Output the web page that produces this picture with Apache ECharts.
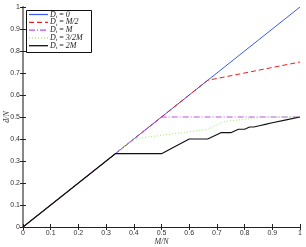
<!DOCTYPE html>
<html><head><meta charset="utf-8">
<script src="https://cdn.jsdelivr.net/npm/echarts@6/dist/echarts.min.js"></script>
<style>html,body{margin:0;padding:0;background:#fff}#c{width:306px;height:247px}</style>
</head><body><div id="c"></div>
<script>
var seriesNames = ['D0', 'DM2', 'DM', 'D3M2', 'D2M'];
var legendLabels = ['0', 'M/2', 'M', '3/2M', '2M'];
var blueData = [[0, 0], [1, 1]];
var redData = [[0, 0], [0.6667, 0.6667], [1, 0.75]];
var purpleData = [[0, 0], [0.5, 0.5], [1, 0.5]];
var greenData = [[0, 0], [0.4, 0.4], [0.5, 0.417], [0.6, 0.433], [0.667, 0.444], [0.7, 0.465], [0.73, 0.48], [0.8, 0.49], [0.875, 0.5], [1, 0.5]];
var blackData = [[0, 0], [0.3333, 0.3333], [0.5, 0.3333], [0.6, 0.4], [0.6667, 0.4], [0.7143, 0.4286], [0.75, 0.4286], [0.7778, 0.4444], [0.8, 0.4444], [0.8182, 0.4545], [0.8333, 0.4545], [0.8571, 0.4615], [0.875, 0.4667], [0.9, 0.4737], [0.95, 0.4872], [1, 0.5]];
var xTicks = [0, 0.1, 0.2, 0.3, 0.4, 0.5, 0.6, 0.7, 0.8, 0.9, 1];
var yTicks = [0, 0.1, 0.2, 0.3, 0.4, 0.5, 0.6, 0.7, 0.8, 0.9, 1];
var colors = ['#3a5cf0', '#ee1c1c', '#b84ee8', '#99ee66', '#111111'];
var dashes = ['solid', [5, 3], [6, 2, 1, 2], [1, 2], 'solid'];
var datas = [blueData, redData, purpleData, greenData, blackData];

var chart = echarts.init(document.getElementById('c'), null, {renderer: 'canvas'});
var tickFont = {fontSize: 7, color: '#333', fontFamily: 'Liberation Sans'};
function fmt(v) { return v === 0 ? '0' : (v === 1 ? '1' : String(v)); }
var axisLine = {show: true, lineStyle: {color: '#222', width: 1}};

var rich = {
  i: {fontFamily: 'Liberation Serif', fontStyle: 'italic', fontSize: 8, fill: '#222', color: '#222'},
  s: {fontFamily: 'Liberation Serif', fontStyle: 'italic', fontSize: 5, fill: '#222', color: '#222', padding: [4, 0, 0, 0]},
  e: {fontFamily: 'Liberation Serif', fontSize: 8, fill: '#222', color: '#222'}
};
var legendGraphics = [{
  type: 'rect', left: 26, top: 10, z: 100,
  shape: {width: 65, height: 42},
  style: {fill: '#fff', stroke: '#111', lineWidth: 1}
}];
seriesNames.forEach(function (n, i) {
  var y = 14.5 + i * 7.8;
  legendGraphics.push({
    type: 'line', z: 101,
    shape: {x1: 29, y1: y, x2: 48, y2: y},
    style: {stroke: colors[i], lineWidth: i === 4 ? 1.3 : 1.2, lineDash: dashes[i] === 'solid' ? null : dashes[i]}
  });
  legendGraphics.push({
    type: 'text', z: 101, x: 50, y: y,
    style: {text: '{i|D}{s|t}{e| = }{i|' + legendLabels[i] + '}', rich: rich, verticalAlign: 'middle', align: 'left'}
  });
});

var option = {
  animation: false,
  backgroundColor: '#fff',
  grid: {left: 23, right: 6, top: 7, bottom: 20, show: false, containLabel: false, outerBoundsMode: 'none'},
  graphic: legendGraphics,
  xAxis: [{
    type: 'value', min: 0, max: 1, interval: 0.1, position: 'bottom',
    name: 'M/N', nameLocation: 'middle', nameGap: 11, nameMoveOverlap: false,
    nameTextStyle: {fontFamily: 'Liberation Serif', fontStyle: 'italic', fontSize: 8, color: '#333'},
    axisLine: axisLine,
    axisTick: {show: true, inside: true, length: 3, lineStyle: {color: '#222'}},
    axisLabel: Object.assign({margin: 3, formatter: fmt, showMaxLabel: true}, tickFont),
    splitLine: {show: false}
  }, {
    type: 'value', min: 0, max: 1, interval: 0.1, position: 'top',
    axisLine: axisLine,
    axisTick: {show: true, inside: true, length: 3, lineStyle: {color: '#222'}},
    axisLabel: {show: false}, splitLine: {show: false}
  }],
  yAxis: [{
    type: 'value', min: 0, max: 1, interval: 0.1, position: 'left',
    name: 'd\u0304/N', nameLocation: 'middle', nameGap: 12, nameRotate: 90, nameMoveOverlap: false,
    nameTextStyle: {fontFamily: 'Liberation Serif', fontStyle: 'italic', fontSize: 8, color: '#333'},
    axisLine: axisLine,
    axisTick: {show: true, inside: true, length: 3, lineStyle: {color: '#222'}},
    axisLabel: Object.assign({margin: 3, formatter: fmt}, tickFont),
    splitLine: {show: false}
  }, {
    type: 'value', min: 0, max: 1, interval: 0.1, position: 'right',
    axisLine: {show: true, lineStyle: {color: '#888', width: 2}},
    axisTick: {show: true, inside: true, length: 3, lineStyle: {color: '#222'}},
    axisLabel: {show: false}, splitLine: {show: false}
  }],
  series: seriesNames.map(function (n, i) {
    return {
      name: n, type: 'line', data: datas[i], symbol: 'none', z: 2 + i,
      itemStyle: {color: colors[i]},
      lineStyle: {color: colors[i], width: i === 4 ? 1.2 : 1, type: dashes[i]}
    };
  })
};
chart.setOption(option);
</script>
</body></html>
